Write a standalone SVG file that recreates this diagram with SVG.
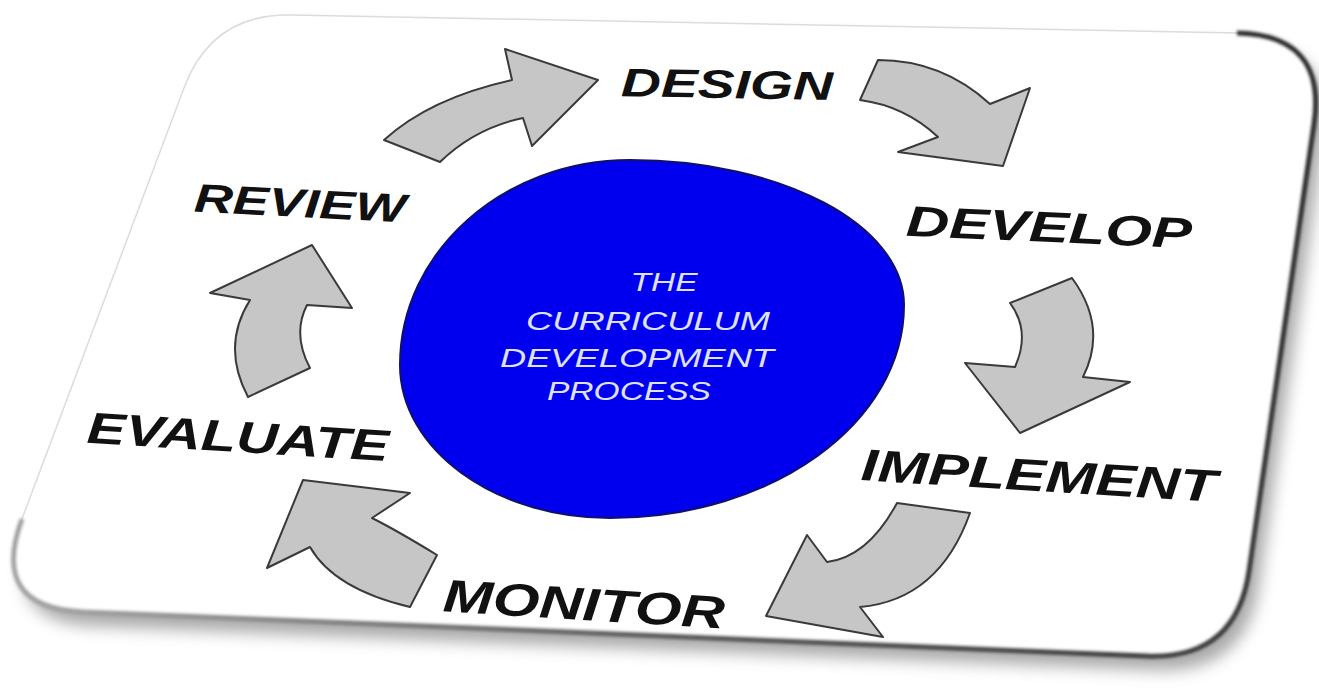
<svg xmlns="http://www.w3.org/2000/svg" width="1319" height="688" viewBox="0 0 1319 688">
  <defs>
    <filter id="shadowBlur" x="-10%" y="-10%" width="125%" height="130%">
      <feGaussianBlur stdDeviation="8"/>
    </filter>
    <filter id="edgeBlur" x="-5%" y="-5%" width="110%" height="110%">
      <feGaussianBlur stdDeviation="1.6"/>
    </filter>
    <linearGradient id="edgeGrad" gradientUnits="userSpaceOnUse" x1="0" y1="600" x2="1319" y2="200">
      <stop offset="0" stop-color="#a8a8a8"/>
      <stop offset="0.45" stop-color="#5a5a5a"/>
      <stop offset="1" stop-color="#2e2e2e"/>
    </linearGradient>
    <style>
      .arrow { fill: #c6c6c6; stroke: #3a3a3a; stroke-width: 2; stroke-linejoin: round; }
      .label { font-family: "Liberation Sans", Arial, sans-serif; font-weight: bold; font-style: italic; fill: #111; text-anchor: middle; }
      .inner { font-family: "Liberation Sans", Arial, sans-serif; font-style: italic; fill: #dfe2ff; text-anchor: middle; font-size: 25px; }
    </style>
  </defs>

  <rect width="1319" height="688" fill="#ffffff"/>

  <!-- card -->
  <g id="card">
    <path d="M292,15 L1237,33 Q1327,35 1314,124 L1249,571 Q1236,660 1146,656 L84,612 Q-11,608 22,519 L184,88 Q212,13 292,15 Z" transform="translate(10,14)" fill="#8c8c8c" opacity="0.75" filter="url(#shadowBlur)"/>
    <path d="M292,15 L1237,33 Q1327,35 1314,124 L1249,571 Q1236,660 1146,656 L84,612 Q-11,608 22,519 L184,88 Q212,13 292,15 Z" fill="#ffffff" stroke="#dcdcdc" stroke-width="1.5"/>
    <path d="M1237,33 Q1327,35 1314,124 L1249,571 Q1236,660 1146,656 L84,612 Q-11,608 22,519" fill="none" stroke="url(#edgeGrad)" stroke-width="5" filter="url(#edgeBlur)"/>
  </g>

  <!-- central node -->
  <g id="center">
    <path d="M400,365 C400,252 503,160 630,160 C781,160 904,225 904,305 C904,423 772,518 610,518 C494,518 400,449 400,365 Z" fill="#0000ee" stroke="#10106a" stroke-width="2"/>
    <text class="inner" x="664" y="291" textLength="67" lengthAdjust="spacingAndGlyphs">THE</text>
    <text class="inner" x="648" y="330" textLength="244" lengthAdjust="spacingAndGlyphs">CURRICULUM</text>
    <text class="inner" x="637" y="367" textLength="274" lengthAdjust="spacingAndGlyphs">DEVELOPMENT</text>
    <text class="inner" x="629" y="400" textLength="164" lengthAdjust="spacingAndGlyphs">PROCESS</text>
  </g>

  <!-- labels -->
  <g id="design"><text class="label" font-size="40" x="727" y="98" textLength="212" lengthAdjust="spacingAndGlyphs" transform="rotate(1 727 84)">DESIGN</text></g>
  <g id="develop"><text class="label" font-size="43" x="1049" y="242" textLength="286" lengthAdjust="spacingAndGlyphs" transform="rotate(2.5 1049 227)">DEVELOP</text></g>
  <g id="implement"><text class="label" font-size="45" x="1039" y="491" textLength="356" lengthAdjust="spacingAndGlyphs" transform="rotate(3.5 1039 475)">IMPLEMENT</text></g>
  <g id="monitor"><text class="label" font-size="46" x="584" y="620" textLength="282" lengthAdjust="spacingAndGlyphs" transform="rotate(3.5 584 603)">MONITOR</text></g>
  <g id="evaluate"><text class="label" font-size="44" x="238" y="452" textLength="302" lengthAdjust="spacingAndGlyphs" transform="rotate(3.5 238 436)">EVALUATE</text></g>
  <g id="review"><text class="label" font-size="40" x="300" y="217" textLength="212" lengthAdjust="spacingAndGlyphs" transform="rotate(3 300 203)">REVIEW</text></g>

  <!-- connectors -->
  <g id="connectors">
    <path class="arrow" d="M384,140 Q430,98 512,80 L505,49 L598,80 L532,146 L523,118 Q475,128 440,162 Z"/>
    <path class="arrow" d="M878,60 Q942,60 990,104 L1030,88 L1003,166 L898,152 L938,137 Q905,106 860,100 Z"/>
    <path class="arrow" d="M1010,303 L1072,278 Q1108,327 1083,377 L1130,382 L1020,433 L965,363 L1015,367 Q1031,331 1010,303 Z"/>
    <path class="arrow" d="M897,503 L970,513 Q939,600 860,607 L883,637 L766,616 L807,535 L827,562 Q868,557 897,503 Z"/>
    <path class="arrow" d="M303,480 L410,493 L372,518 Q396,530 437,555 L410,607 Q334,589 310,547 L267,568 Z"/>
    <path class="arrow" d="M312,245 L352,308 L307,305 Q292,334 310,368 L248,397 Q221,346 250,300 L210,293 Z"/>
  </g>
</svg>
